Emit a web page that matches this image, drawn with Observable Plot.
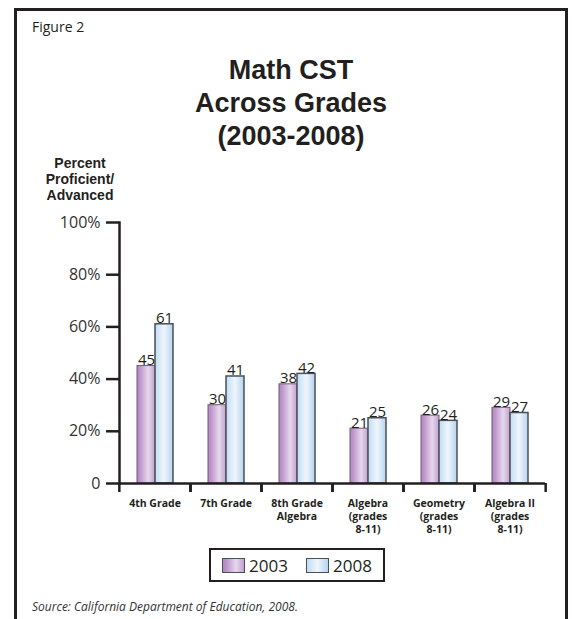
<!DOCTYPE html>
<html>
<head>
<meta charset="utf-8">
<script src="https://cdn.jsdelivr.net/npm/d3@7"></script>
<script src="https://cdn.jsdelivr.net/npm/@observablehq/plot@0.6"></script>
<style>
  body { margin: 0; background: #fff; font-family: "Open Sans", sans-serif; color: #231f20; }
  #page { position: relative; width: 572px; height: 619px; overflow: hidden; background: #fff; }
  #frame { position: absolute; left: 14px; top: 8px; width: 548px; height: 700px; border: 3px solid #231f20; border-bottom: none; }
  .abs { position: absolute; }
  #fig { left: 32px; top: 19.5px; font-size: 14px; line-height: 1; }
  #title { left: 10px; width: 562px; top: 54px; text-align: center; font-family: "Liberation Sans", Arial, sans-serif; font-size: 27px; font-weight: bold; line-height: 33px; }
  #ylab { left: 30px; width: 100px; top: 154.6px; text-align: center; font-family: "Liberation Sans", Arial, sans-serif; font-size: 14px; font-weight: bold; line-height: 16px; }
  #chart { left: 0; top: 200px; }
  #legend { left: 209px; top: 548px; width: 172px; height: 30px; border: 2px solid #231f20; display: flex; align-items: center; justify-content: center; font-size: 17px; }
  .sw { display: inline-block; width: 21px; height: 13px; border: 1px solid #4a4f58; margin-right: 4px; }
  .item { display: flex; align-items: center; margin: 0 9px; }
  #source { left: 32px; top: 601px; font-size: 12px; font-style: italic; line-height: 1; color: #333; }
</style>
</head>
<body>
<div id="page">
  <div id="frame"></div>
  <div id="fig" class="abs">Figure 2</div>
  <div id="title" class="abs">Math CST<br>Across Grades<br>(2003-2008)</div>
  <div id="ylab" class="abs">Percent<br>Proficient/<br>Advanced</div>
  <div id="chart" class="abs"></div>
  <div id="legend" class="abs"></div>
  <div id="source" class="abs">Source: California Department of Education, 2008.</div>
</div>
<script>
const grades = ["4th Grade", "7th Grade", "8th Grade\nAlgebra", "Algebra\n(grades\n8-11)", "Geometry\n(grades\n8-11)", "Algebra II\n(grades\n8-11)"];
const years = ["2003", "2008"];
const values2003 = [45, 30, 38, 21, 26, 29];
const values2008 = [61, 41, 42, 25, 24, 27];
const yTicks = [0, 20, 40, 60, 80, 100];

const data = grades.flatMap((g, i) => [
  {grade: g, year: years[0], value: values2003[i]},
  {grade: g, year: years[1], value: values2008[i]}
]);

const W = 572, H = 340, ML = 118, MR = 26;
const step = (W - ML - MR) / grades.length;

const svg = Plot.plot({
  width: W, height: H,
  marginTop: 22, marginBottom: 57, marginLeft: ML, marginRight: MR,
  style: {fontFamily: "Open Sans", color: "#231f20", background: "transparent", overflow: "visible"},
  fx: {domain: grades, padding: 0, label: null},
  x: {domain: years, paddingInner: 0, paddingOuter: 0.92, axis: null},
  y: {domain: [0, 100], label: null},
  color: {domain: years, range: ["url(#g2003)", "url(#g2008)"]},
  marks: [
    Plot.barY(data.filter(d => d.year === years[0]), {fx: "grade", x: "year", y: "value", fill: "year", stroke: "#6f5a78", strokeWidth: 1}),
    Plot.barY(data.filter(d => d.year === years[1]), {fx: "grade", x: "year", y: "value", fill: "year", stroke: "#4a4f58", strokeWidth: 1.5}),
    Plot.text(data, {fx: "grade", x: "year", y: "value", text: d => String(d.value), lineAnchor: "bottom", dy: -1, fontSize: 15, fill: "#231f20"}),
    Plot.ruleY([0], {strokeWidth: 2.5, stroke: "#231f20"}),
    Plot.frame({anchor: "left", facetAnchor: "left", strokeWidth: 2.5, stroke: "#231f20"}),
    Plot.axisY(yTicks, {tickSize: 13, tickPadding: 6, strokeWidth: 2.5, fontSize: 16, fill: "#333", stroke: "#231f20", tickFormat: d => d === 0 ? "0" : d + "%", label: null}),
    Plot.axisFx({anchor: "bottom", tickSize: 0, tickPadding: 15, fontSize: 10.5, fontWeight: "bold", lineHeight: 1.2, label: null}),
    Plot.axisFx({anchor: "bottom", tickSize: 9, strokeWidth: 2.5, fill: "none", dx: -step / 2, label: null}),
    Plot.axisFx([grades[grades.length - 1]], {anchor: "bottom", tickSize: 9, strokeWidth: 2.5, fill: "none", dx: step / 2, label: null})
  ]
});

const ns = "http://www.w3.org/2000/svg";
const defs = document.createElementNS(ns, "defs");
defs.innerHTML = `
<linearGradient id="g2003" x1="0" x2="1" y1="0" y2="0">
  <stop offset="0" stop-color="#b084c2"/>
  <stop offset="0.2" stop-color="#c09acd"/>
  <stop offset="0.62" stop-color="#e6d8ec"/>
  <stop offset="1" stop-color="#c2a0d0"/>
</linearGradient>
<linearGradient id="g2008" x1="0" x2="1" y1="0" y2="0">
  <stop offset="0" stop-color="#c2dcf3"/>
  <stop offset="0.5" stop-color="#eef6fd"/>
  <stop offset="1" stop-color="#b6d3ee"/>
</linearGradient>`;
svg.prepend(defs);
document.getElementById("chart").appendChild(svg);

const swatchCss = {
  "2003": "linear-gradient(to right, #b084c2, #c09acd 20%, #e6d8ec 62%, #c2a0d0)",
  "2008": "linear-gradient(to right, #c2dcf3, #eef6fd 50%, #b6d3ee)"
};
const legend = document.getElementById("legend");
years.forEach(y => {
  const item = document.createElement("span");
  item.className = "item";
  const sw = document.createElement("span");
  sw.className = "sw";
  sw.style.background = swatchCss[y];
  item.appendChild(sw);
  item.appendChild(document.createTextNode(y));
  legend.appendChild(item);
});
</script>
</body>
</html>
